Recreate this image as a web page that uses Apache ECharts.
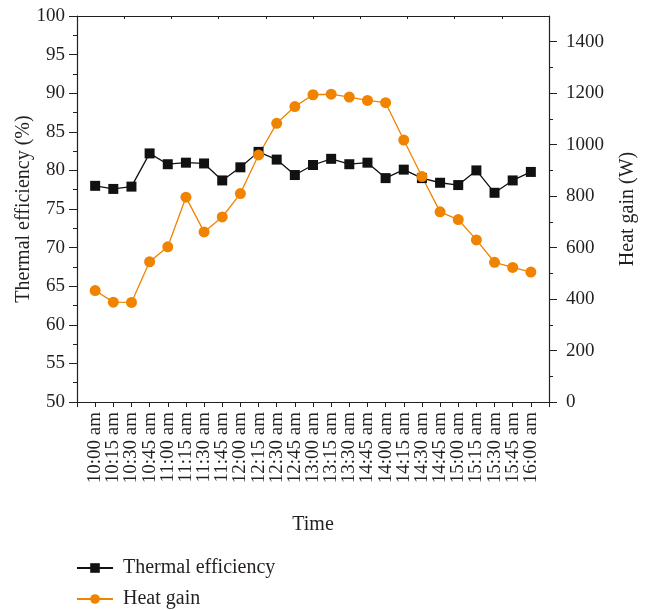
<html>
<head>
<meta charset="utf-8"/>
<title>Thermal efficiency and heat gain</title>
<script src="https://cdn.jsdelivr.net/npm/echarts@6/dist/echarts.min.js"></script>
<style>
  html, body { margin: 0; padding: 0; background: #fff; }
  #main { width: 648px; height: 610px; }
</style>
</head>
<body>
<div id="main"></div>
<script type="text/javascript">
    // time labels as printed in the figure (the 14:45 typo is in the original)
    var times = ['10:00 am', '10:15 am', '10:30 am', '10:45 am', '11:00 am', '11:15 am', '11:30 am',
        '11:45 am', '12:00 am', '12:15 am', '12:30 am', '12:45 am', '13:00 am', '13:15 am', '13:30 am',
        '14:45 am', '14:00 am', '14:15 am', '14:30 am', '14:45 am', '15:00 am', '15:15 am', '15:30 am',
        '15:45 am', '16:00 am'];
    var efficiency = [78.0, 77.6, 77.9, 82.2, 80.8, 81.0, 80.9, 78.7, 80.4, 82.4, 81.4, 79.4, 80.7,
        81.5, 80.8, 81.0, 79.0, 80.1, 79.0, 78.4, 78.1, 80.0, 77.1, 78.7, 79.8];
    var heatGain = [433, 388, 387, 545, 603, 796, 661, 719, 810, 960, 1083, 1148, 1194,
        1196, 1185, 1172, 1163, 1018, 876, 739, 709, 630, 543, 523, 505];
    // right axis: labelled ticks and the small ticks in between
    var gainTicks = [0, 200, 400, 600, 800, 1000, 1200, 1400];
    var gainMinor = [100, 300, 500, 700, 900, 1100, 1300];

    var ink = '#231f20';
    var orange = '#f08300';
    var font = '"Liberation Serif", "DejaVu Serif", serif';

    function pairs(arr) {
        return arr.map(function (v, i) { return [i, v]; });
    }

    var myChart = echarts.init(document.getElementById('main'));
    var option = {
        animation: false,
        textStyle: { fontFamily: font, color: ink },
        grid: { left: 77, right: 99, top: 16, bottom: 208 },
        legend: {
            orient: 'vertical',
            left: 76, top: 558, padding: 0,
            itemWidth: 36, itemHeight: 12, itemGap: 11,
            textStyle: { fontFamily: font, fontSize: 20, color: ink, padding: [0, 0, 0, 5] },
            data: ['Thermal efficiency', 'Heat gain']
        },
        xAxis: [{
            type: 'value',
            min: -1, max: 25, interval: 1,
            name: 'Time', nameLocation: 'middle', nameGap: 113, nameMoveOverlap: false,
            nameTextStyle: { fontFamily: font, fontSize: 20, color: ink },
            axisLine: { onZero: false, lineStyle: { color: ink, width: 1.2 } },
            axisTick: { length: 5, lineStyle: { color: ink } },
            axisLabel: {
                rotate: 90, margin: 10, fontSize: 19, color: ink, fontFamily: font,
                formatter: function (v) { return times[v] || ''; }
            },
            splitLine: { show: false }
        }, {
            type: 'value', position: 'top',
            min: 0, max: 10, interval: 1,
            axisLine: { onZero: false, lineStyle: { color: ink, width: 1.2 } },
            axisTick: { inside: true, length: 3, lineStyle: { color: ink } },
            axisLabel: { show: false },
            splitLine: { show: false }
        }],
        yAxis: [{
            type: 'value', position: 'left',
            min: 50, max: 100, interval: 5,
            name: 'Thermal efficiency (%)', nameLocation: 'middle', nameGap: 43, nameMoveOverlap: false,
            nameTextStyle: { fontFamily: font, fontSize: 20, color: ink },
            axisLine: { show: true, onZero: false, lineStyle: { color: ink, width: 1.2 } },
            axisTick: { length: 8, lineStyle: { color: ink } },
            minorTick: { show: true, splitNumber: 2, length: 4, lineStyle: { color: ink } },
            axisLabel: { margin: 12, fontSize: 19, color: ink, fontFamily: font },
            splitLine: { show: false }
        }, {
            type: 'value', position: 'right',
            min: 0, max: 1500,
            name: 'Heat gain (W)', nameLocation: 'middle', nameGap: 69, nameMoveOverlap: false,
            nameTextStyle: { fontFamily: font, fontSize: 20, color: ink },
            axisLine: { show: true, onZero: false, lineStyle: { color: ink, width: 1.2 } },
            axisTick: { length: 8, customValues: gainTicks, lineStyle: { color: ink } },
            axisLabel: {
                margin: 17, fontSize: 19, color: ink, fontFamily: font,
                customValues: gainTicks,
                formatter: function (v) { return String(v); }
            },
            splitLine: { show: false }
        }, {
            type: 'value', position: 'right',
            min: 0, max: 1500,
            axisLine: { show: false, onZero: false },
            axisTick: { length: 4, customValues: gainMinor, lineStyle: { color: ink } },
            axisLabel: { show: false },
            splitLine: { show: false }
        }],
        series: [{
            name: 'Thermal efficiency',
            type: 'line',
            yAxisIndex: 0,
            data: pairs(efficiency),
            symbol: 'rect', symbolSize: 10,
            itemStyle: { color: '#111' },
            lineStyle: { color: '#111', width: 1.3 }
        }, {
            name: 'Heat gain',
            type: 'line',
            yAxisIndex: 1,
            data: pairs(heatGain),
            symbol: 'circle', symbolSize: 11,
            itemStyle: { color: orange },
            lineStyle: { color: orange, width: 1.3 }
        }]
    };
    myChart.setOption(option);
</script>
</body>
</html>
